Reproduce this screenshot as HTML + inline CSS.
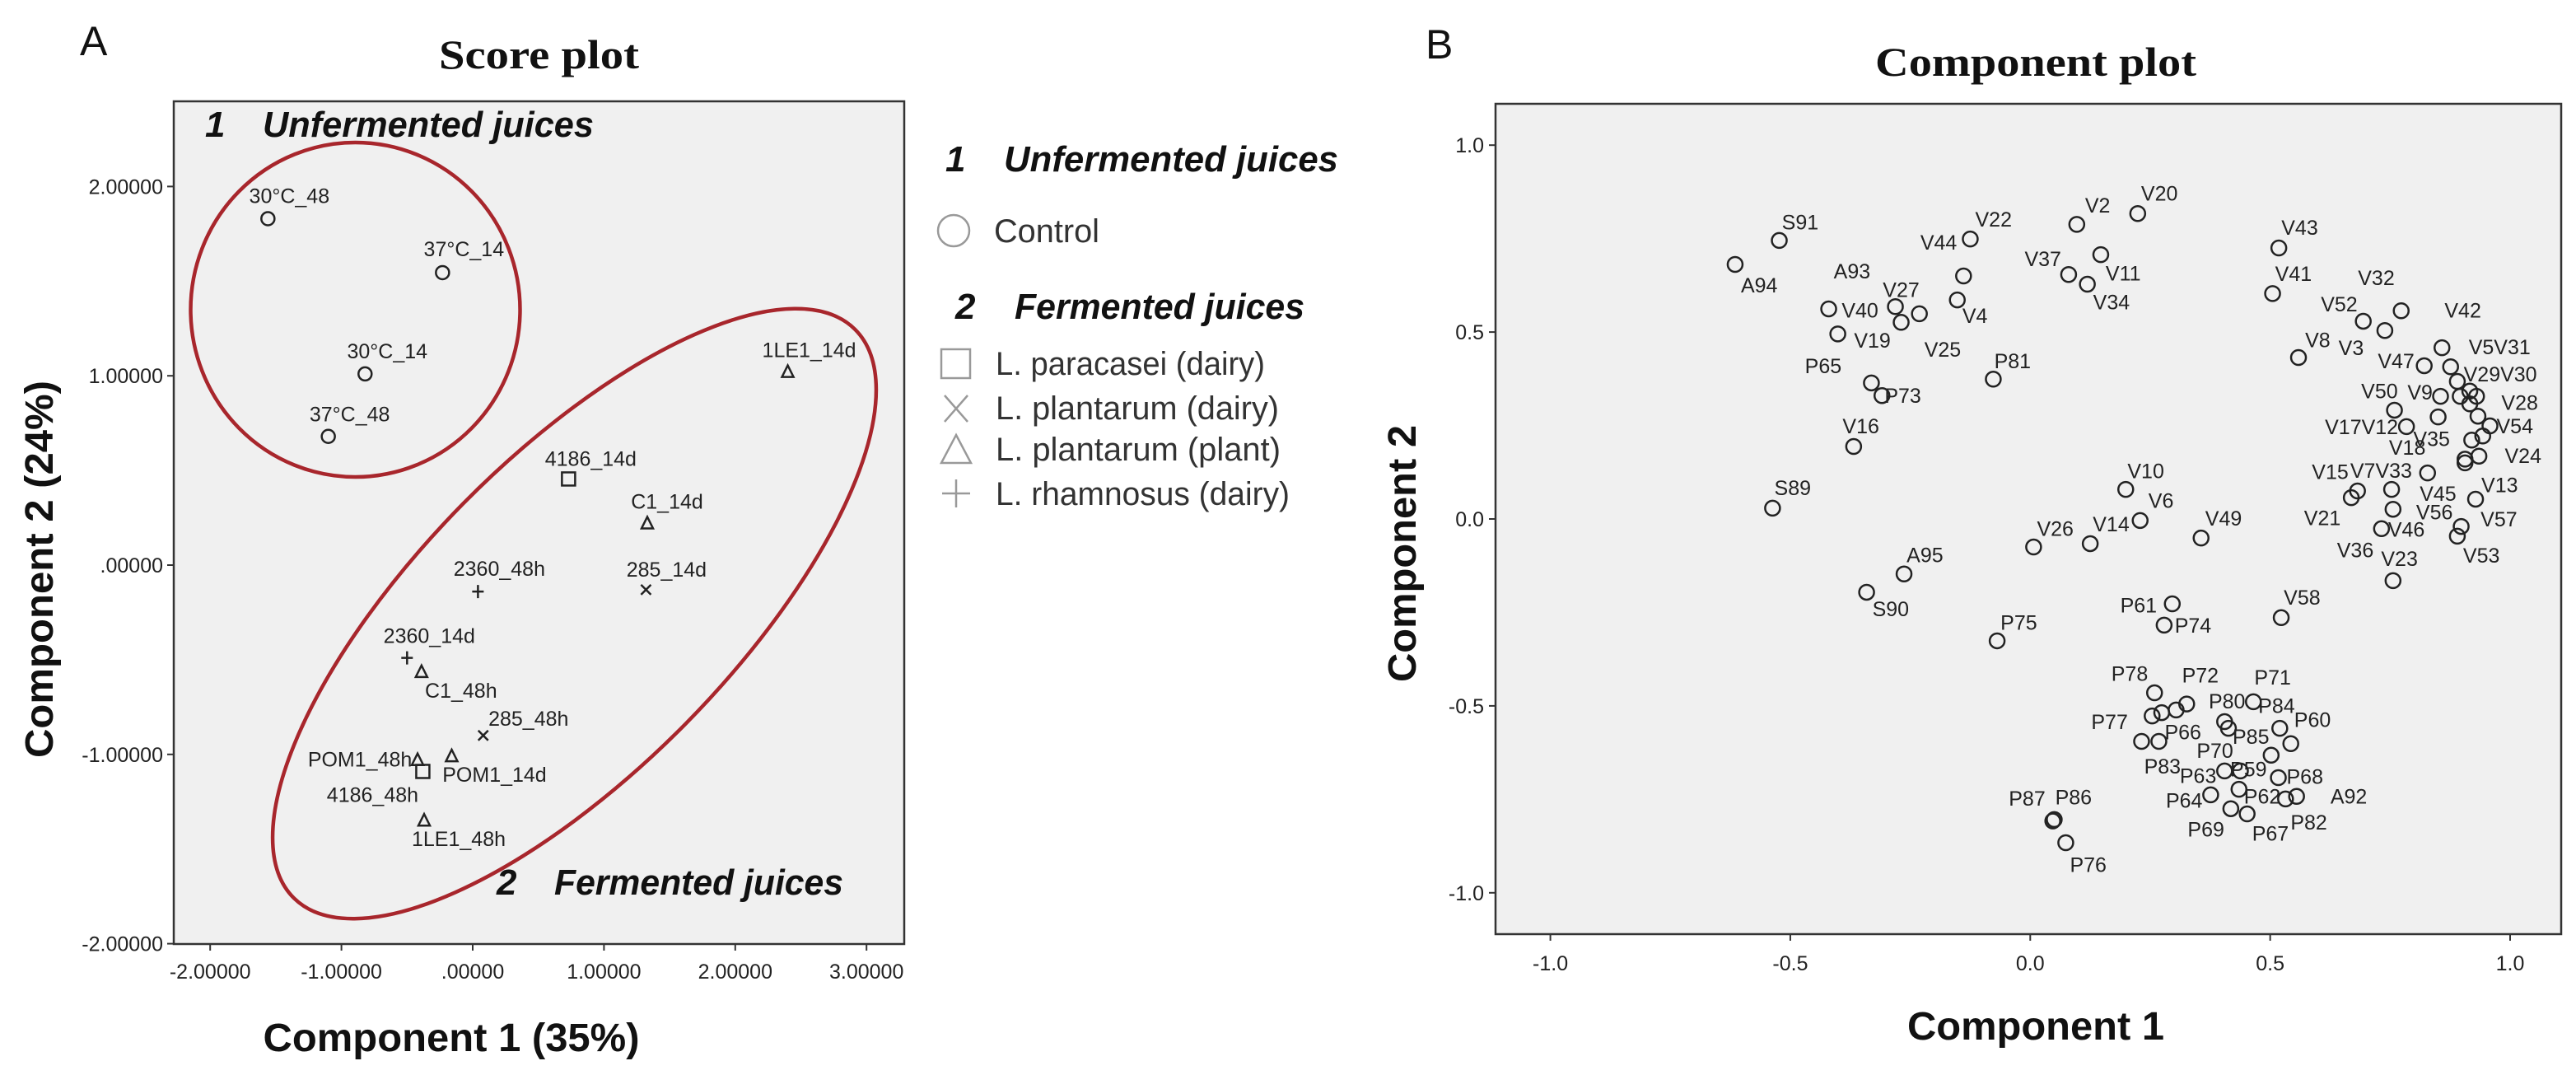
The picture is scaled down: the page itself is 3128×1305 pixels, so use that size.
<!DOCTYPE html>
<html><head><meta charset="utf-8"><style>
html,body{margin:0;padding:0;background:#fff;}
svg{display:block;}
</style></head><body>
<svg id="fig" width="3128" height="1305" viewBox="0 0 3128 1305" xmlns="http://www.w3.org/2000/svg" font-family="'Liberation Sans', Arial, sans-serif">
  <rect x="0" y="0" width="3128" height="1305" fill="#fff"/>
  <!-- Panel A -->
  <text x="97" y="67" font-size="50" fill="#111">A</text>
  <text x="533" y="83" font-family="'Liberation Serif', serif" font-weight="bold" font-size="50" textLength="243" lengthAdjust="spacingAndGlyphs" fill="#111">Score plot</text>
  <rect x="211" y="123" width="887" height="1023" fill="#f0f0f0" stroke="#333" stroke-width="2.5"/>
  <g id="axA"></g>
  <text transform="translate(64,691) rotate(-90)" text-anchor="middle" font-weight="bold" font-size="48" textLength="458" lengthAdjust="spacingAndGlyphs" fill="#111">Component 2 (24%)</text>
  <text x="548" y="1276" text-anchor="middle" font-weight="bold" font-size="48" textLength="457" lengthAdjust="spacingAndGlyphs" fill="#111">Component 1 (35%)</text>
  <ellipse cx="431.5" cy="376" rx="200" ry="203" fill="none" stroke="#a8262c" stroke-width="4.5"/>
  <ellipse cx="697.5" cy="745" rx="485" ry="190" transform="rotate(-45.4 697.5 745)" fill="none" stroke="#a8262c" stroke-width="4.5"/>
  <g font-weight="bold" font-style="italic" fill="#111" font-size="44">
    <text x="249" y="166">1</text>
    <text x="319" y="166" textLength="402" lengthAdjust="spacingAndGlyphs">Unfermented juices</text>
    <text x="603" y="1086">2</text>
    <text x="673" y="1086" textLength="351" lengthAdjust="spacingAndGlyphs">Fermented juices</text>
  </g>
  <g id="ptsA"></g>
  <!-- Legend -->
  <g>
    <g font-weight="bold" font-style="italic" fill="#111" font-size="44">
      <text x="1148" y="208">1</text>
      <text x="1219" y="208" textLength="406" lengthAdjust="spacingAndGlyphs">Unfermented juices</text>
      <text x="1160" y="387">2</text>
      <text x="1232" y="387" textLength="352" lengthAdjust="spacingAndGlyphs">Fermented juices</text>
    </g>
    <g stroke="#999" stroke-width="2.5" fill="none">
      <circle cx="1158" cy="280" r="19"/>
      <rect x="1143" y="424" width="35" height="35"/>
      <path d="M1147 480 L1175 512 M1175 480 L1147 512"/>
      <path d="M1161 528 L1179 562 L1143 562 Z"/>
      <path d="M1161 582 L1161 616 M1144 599 L1178 599"/>
    </g>
    <g fill="#333" font-size="40">
      <text x="1207" y="294" textLength="128" lengthAdjust="spacingAndGlyphs">Control</text>
      <text x="1209" y="455" textLength="327" lengthAdjust="spacingAndGlyphs">L. paracasei (dairy)</text>
      <text x="1209" y="509" textLength="344" lengthAdjust="spacingAndGlyphs">L. plantarum (dairy)</text>
      <text x="1209" y="559" textLength="346" lengthAdjust="spacingAndGlyphs">L. plantarum (plant)</text>
      <text x="1209" y="613" textLength="357" lengthAdjust="spacingAndGlyphs">L. rhamnosus (dairy)</text>
    </g>
  </g>
  <!-- Panel B -->
  <text x="1731" y="71" font-size="50" fill="#111">B</text>
  <text x="2277" y="92" font-family="'Liberation Serif', serif" font-weight="bold" font-size="50" textLength="390" lengthAdjust="spacingAndGlyphs" fill="#111">Component plot</text>
  <rect x="1816" y="126" width="1294" height="1008" fill="#f0f0f0" stroke="#333" stroke-width="2.5"/>
  <g id="axB"></g>
  <text transform="translate(1719,672) rotate(-90)" text-anchor="middle" font-weight="bold" font-size="48" textLength="312" lengthAdjust="spacingAndGlyphs" fill="#111">Component 2</text>
  <text x="2472" y="1262" text-anchor="middle" font-weight="bold" font-size="48" textLength="312" lengthAdjust="spacingAndGlyphs" fill="#111">Component 1</text>
  <g id="ptsB"></g>
</svg>
<script>
// ---- Panel A data ----
const aNames = ["30°C_48","37°C_14","30°C_14","37°C_48","1LE1_14d","4186_14d","C1_14d","285_14d","2360_48h","2360_14d","C1_48h","285_48h","POM1_14d","POM1_48h","4186_48h","1LE1_48h"];
const aX = [-1.56,-0.23,-0.82,-1.10,2.40,0.73,1.33,1.32,0.04,-0.50,-0.39,0.08,-0.16,-0.42,-0.38,-0.37];
const aY = [1.83,1.545,1.01,0.68,1.02,0.455,0.22,-0.13,-0.14,-0.49,-0.565,-0.90,-1.01,-1.03,-1.09,-1.35];
const aGroup = ["control","control","control","control","plant","paracasei","plant","plantdairy","rhamnosus","rhamnosus","plant","plantdairy","plant","plant","paracasei","plant"];
const aXTicks = [-2,-1,0,1,2,3];
const aYTicks = [2,1,0,-1,-2];
const aXTickLabels = ["-2.00000","-1.00000",".00000","1.00000","2.00000","3.00000"];
const aYTickLabels = ["2.00000","1.00000",".00000","-1.00000","-2.00000"];
// ---- Panel B data ----
const bNames = ["A94","S91","V40","V19","A93","V27","V25","V4","V44","V22","P81","P65","P73","V16","S89","A95","S90","V26","V14","V10","V6","V49","V2","V20","V37","V11","V34","P75","P61","P74",
"V43","V41","V8","V52","V3","V32","V42","V47","V5V31","v-a","V29V30","V50","V9","v-b","v-c","V28","V54","v-d","V35","V24","v-e","V18","V17V12","v-f","V45","V7V33","V15","V21","V36","V46","V13","V56","V53","V57","V23","V58",
"P78","P77","p-a","p-b","P72","P83","P66","P80","P85","P71","P84","P60","P70","P63","P59","P68","P62","P64","P69","P67","P82","A92","P87","P86","P76"];
const bX = [-0.615,-0.523,-0.420,-0.401,-0.281,-0.269,-0.231,-0.152,-0.139,-0.125,-0.077,-0.331,-0.309,-0.368,-0.537,-0.263,-0.341,0.007,0.125,0.199,0.229,0.356,0.097,0.224,0.080,0.147,0.119,-0.069,0.296,0.279,
0.518,0.505,0.559,0.694,0.739,0.773,0.858,0.821,0.876,0.890,0.916,0.855,0.896,0.930,0.916,0.933,0.958,0.943,0.920,0.935,0.906,0.784,0.759,0.850,0.828,0.753,0.682,0.669,0.756,0.732,0.928,0.906,0.890,0.898,0.756,0.523,
0.259,0.254,0.274,0.304,0.326,0.232,0.268,0.405,0.413,0.465,0.520,0.543,0.502,0.405,0.438,0.517,0.435,0.376,0.418,0.452,0.532,0.555,0.047,0.050,0.074];
const bY = [0.681,0.745,0.562,0.495,0.568,0.526,0.549,0.586,0.650,0.749,0.374,0.364,0.330,0.194,0.029,-0.147,-0.196,-0.075,-0.066,0.079,-0.004,-0.051,0.788,0.817,0.654,0.707,0.628,-0.326,-0.227,-0.284,
0.725,0.603,0.432,0.529,0.504,0.557,0.458,0.410,0.407,0.368,0.342,0.328,0.328,0.328,0.308,0.275,0.249,0.222,0.211,0.168,0.150,0.247,0.291,0.273,0.123,0.079,0.075,0.057,0.026,-0.026,0.053,0.160,-0.046,-0.020,-0.165,-0.264,
-0.465,-0.527,-0.518,-0.511,-0.495,-0.595,-0.595,-0.542,-0.560,-0.489,-0.560,-0.601,-0.632,-0.674,-0.674,-0.692,-0.723,-0.738,-0.775,-0.789,-0.749,-0.742,-0.808,-0.804,-0.866];
const bTicks = [1.0,0.5,0.0,-0.5,-1.0];
const bTickLabels = ["1.0","0.5","0.0","-0.5","-1.0"];
const bXTicks = [-1.0,-0.5,0.0,0.5,1.0];
const bXTickLabels = ["-1.0","-0.5","0.0","0.5","1.0"];

// ---- layout (not data): label offsets, px ----
const aLabelOff = {"30°C_48":[26,-28],"37°C_14":[26,-29],"30°C_14":[27,-28],"37°C_48":[26,-27],"1LE1_14d":[26,-27],"4186_14d":[27,-25],"C1_14d":[24,-27],"285_14d":[25,-25],"2360_48h":[26,-28],"2360_14d":[27,-27],"C1_48h":[48,22],"285_48h":[55,-21],"POM1_14d":[52,22],"POM1_48h":[-70,-1],"4186_48h":[-61,28],"1LE1_48h":[42,22]};
const bOffZ = {A94:[30,30],S91:[26,-27],V40:[39,2],V19:[43,9],A93:[-54,-52],V27:[0,-48],V25:[29,52],V4:[22,23],V44:[-31,-49],V22:[29,-29],P81:[24,-27],P65:[-60,-25],P73:[26,0],V16:[9,-30],S89:[25,-30],A95:[26,-28],S90:[30,24],V26:[27,-27],V14:[26,-29],V10:[25,-27],V6:[26,-29],V49:[28,-29],V2:[26,-28],V20:[27,-30],V37:[-32,-23],V11:[28,27],V34:[30,26],P75:[27,-27],P61:[-42,2],P74:[36,0],
V43:[26,-30],V41:[26,-29],V8:[24,-26],V52:[-30,-25],V3:[-42,25],V32:[-31,-48],V42:[26,-55],V47:[-35,-7],V5V31:[61,-29],V29V30:[38,-25],V50:[-76,-8],V9:[-50,-6],V28:[52,-20],V54:[31,0],V35:[-50,-2],V24:[55,-1],V18:[1,30],V17V12:[-41,24],V45:[13,30],V7V33:[-13,-28],V15:[-34,-28],V21:[-36,29],V36:[-47,59],V46:[31,1],V13:[30,-21],V56:[-38,77],V53:[30,28],V57:[47,-11],V23:[8,-32],V58:[26,-30],
P78:[-31,-28],P77:[-53,8],P72:[17,-42],P83:[26,36],P66:[30,-14],P80:[3,-30],P85:[28,12],P71:[24,-36],P84:[-4,-33],P60:[27,-35],P70:[-70,-7],P63:[-33,7],P59:[10,-3],P68:[33,-2],P62:[29,10],P64:[-33,8],P69:[-31,30],P67:[29,28],P82:[29,34],A92:[65,0],P87:[-32,-33],P86:[24,-33],P76:[28,32]};

const NS = "http://www.w3.org/2000/svg";
function mk(tag, attrs, parent){const e=document.createElementNS(NS,tag);for(const k in attrs)e.setAttribute(k,attrs[k]);parent.appendChild(e);return e;}
const xA = v => 574 + v*159.4;
const yA = v => 686 - v*229.8;
const xB = v => 2465.3 + v*582.7;
const yB = v => 630 - v*453.8;

// Panel A axes
const axA = document.getElementById('axA');
aYTicks.forEach((t,i)=>{
  const l = mk('line',{x1:203,x2:211,y1:yA(t),y2:yA(t),stroke:'#333','stroke-width':2},axA);
  
  
  const tx = mk('text',{x:198,y:yA(t)+9,'text-anchor':'end','font-size':25,fill:'#222'},axA);
  tx.textContent = aYTickLabels[i];
  
  
});
aXTicks.forEach((t,i)=>{
  const l = mk('line',{x1:xA(t),x2:xA(t),y1:1146,y2:1154,stroke:'#333','stroke-width':2},axA);
  
  
  const tx = mk('text',{x:xA(t),y:1188,'text-anchor':'middle','font-size':25,fill:'#222'},axA);
  tx.textContent = aXTickLabels[i];
  
  
});
// Panel A points
const ptsA = document.getElementById('ptsA');
aNames.forEach((n,i)=>{
  const cx=xA(aX[i]), cy=yA(aY[i]);
  const g=mk('g',{stroke:'#222','stroke-width':2.5,fill:'none'},ptsA);
  
  
  const k=aGroup[i];
  if(k==='control') mk('circle',{cx:cx,cy:cy,r:8},g);
  else if(k==='paracasei') mk('rect',{x:cx-8,y:cy-8,width:16,height:16},g);
  else if(k==='plant') mk('path',{d:`M${cx} ${cy-8} L${cx+7} ${cy+6} L${cx-7} ${cy+6} Z`},g);
  else if(k==='plantdairy') mk('path',{d:`M${cx-6} ${cy-6} L${cx+6} ${cy+6} M${cx+6} ${cy-6} L${cx-6} ${cy+6}`},g);
  else mk('path',{d:`M${cx} ${cy-8} L${cx} ${cy+8} M${cx-7} ${cy} L${cx+7} ${cy}`},g);
  const o=aLabelOff[n]||[0,-25];
  const t=mk('text',{x:cx+o[0],y:cy+o[1]+9,'text-anchor':'middle','font-size':25,fill:'#222'},ptsA);
  t.textContent=n;
  
  
});

// Panel B axes
const axB = document.getElementById('axB');
bTicks.forEach((t,i)=>{
  const l = mk('line',{x1:1808,x2:1816,y1:yB(t),y2:yB(t),stroke:'#333','stroke-width':2},axB);
  
  
  const tx = mk('text',{x:1802,y:yB(t)+9,'text-anchor':'end','font-size':25,fill:'#222'},axB);
  tx.textContent = bTickLabels[i];
  
  
});
bXTicks.forEach((t,i)=>{
  const l = mk('line',{x1:xB(t),x2:xB(t),y1:1134,y2:1142,stroke:'#333','stroke-width':2},axB);
  
  
  const tx = mk('text',{x:xB(t),y:1178,'text-anchor':'middle','font-size':25,fill:'#222'},axB);
  tx.textContent = bXTickLabels[i];
  
  
});
// Panel B points
const ptsB = document.getElementById('ptsB');
bNames.forEach((n,i)=>{
  const cx=xB(bX[i]), cy=yB(bY[i]);
  const c=mk('circle',{cx:cx,cy:cy,r:9,fill:'none',stroke:'#222','stroke-width':2.5},ptsB);
  
  
  const o=bOffZ[n];
  if(!o) return;
  const t=mk('text',{x:cx+o[0]*0.975,y:cy+o[1]*0.833+9,'text-anchor':'middle','font-size':25,fill:'#222'},ptsB);
  t.textContent=n;
  
  
});
</script>
</body></html>
